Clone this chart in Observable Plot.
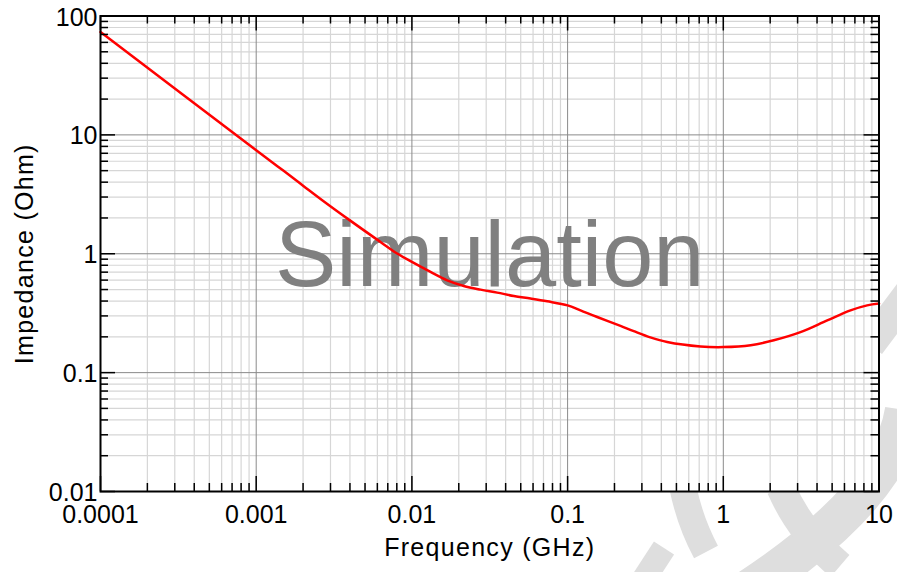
<!DOCTYPE html>
<html>
<head>
<meta charset="utf-8">
<script src="https://cdn.jsdelivr.net/npm/d3@7"></script>
<script src="https://cdn.jsdelivr.net/npm/@observablehq/plot@0.6"></script>
<style>
  html, body { margin: 0; padding: 0; background: white; overflow: hidden; }
  #wrap { position: relative; width: 897px; height: 572px; overflow: hidden; }
  #logo, #chart { position: absolute; left: 0; top: 0; }
</style>
</head>
<body>
<div id="wrap">
  <svg id="logo" width="897" height="572"></svg>
  <div id="chart"></div>
</div>
<script>
// ---- data ----
const freqGHz = [0.0001, 0.001, 0.0015, 0.002, 0.00259, 0.00404, 0.00628, 0.00804, 0.01, 0.01317, 0.01685, 0.02154, 0.02759,
                 0.0353, 0.04515, 0.05778, 0.07396, 0.1, 0.121, 0.1549, 0.2186, 0.266, 0.34, 0.436, 0.714,
                 1.0, 1.5, 2.11, 3.13, 4.65, 6.56, 8.39, 10];
const impedanceOhm = [73.3, 7.44, 4.98, 3.74, 2.89, 1.89, 1.257, 1.004, 0.853, 0.703, 0.598, 0.536, 0.499,
                      0.471, 0.441, 0.420, 0.398, 0.368, 0.334, 0.2935, 0.2475, 0.2234, 0.198, 0.181, 0.166,
                      0.164, 0.170, 0.187, 0.219, 0.275, 0.334, 0.368, 0.381];

const xMajor = [0.0001, 0.001, 0.01, 0.1, 1, 10];
const xMajorLabels = ["0.0001", "0.001", "0.01", "0.1", "1", "10"];
const yMajor = [0.01, 0.1, 1, 10, 100];
const yMajorLabels = ["0.01", "0.1", "1", "10", "100"];
const minorMultipliers = [2, 3, 4, 5, 6, 7, 8, 9];

const xTitle = "Frequency (GHz)";
const yTitle = "Impedance (Ohm)";
const watermark = "Simulation";

// ---- derived ----
const data = freqGHz.map((f, i) => ({f, z: impedanceOhm[i]}));
const xMinor = xMajor.slice(0, -1).flatMap(d => minorMultipliers.map(m => d * m));
const yMinor = yMajor.slice(0, -1).flatMap(d => minorMultipliers.map(m => d * m));
const xLab = new Map(xMajor.map((d, i) => [d, xMajorLabels[i]]));
const yLab = new Map(yMajor.map((d, i) => [d, yMajorLabels[i]]));

const W = 897, H = 572, mL = 100, mR = 18.5, mT = 15.5, mB = 81;
const fh = H - mT - mB;
const fw = W - mL - mR;
const font = "'Liberation Sans', Arial, Helvetica, sans-serif";
const minorLen = 8, majorLen = 15;

const tickStyle = {stroke: "black", strokeWidth: 1.5};

const chart = Plot.plot({
  width: W, height: H,
  marginLeft: mL, marginRight: mR, marginTop: mT, marginBottom: mB,
  style: {background: "transparent", fontFamily: font, overflow: "visible"},
  x: {type: "log", domain: [0.0001, 10], axis: null},
  y: {type: "log", domain: [0.01, 100], axis: null},
  marks: [
    Plot.frame({fill: "white", stroke: null}),
    Plot.gridX(xMinor, {stroke: "#d6d6d6", strokeOpacity: 1, strokeWidth: 1.2}),
    Plot.gridY(yMinor, {stroke: "#d6d6d6", strokeOpacity: 1, strokeWidth: 1.2}),
    Plot.gridX(xMajor.slice(1, -1), {stroke: "#8a8a8a", strokeOpacity: 1, strokeWidth: 1}),
    Plot.gridY(yMajor.slice(1, -1), {stroke: "#8a8a8a", strokeOpacity: 1, strokeWidth: 1}),
    Plot.text([watermark], {frameAnchor: "middle", fontSize: 92, fill: "#808080", dy: 3}),
    Plot.line(data, {x: "f", y: "z", stroke: "#ff0000", strokeWidth: 2.5, curve: "catmull-rom"}),
    Plot.frame({stroke: "black", strokeWidth: 2}),
    // inward ticks
    Plot.tickX(xMinor, {x: d => d, ...tickStyle, insetTop: fh - minorLen}),
    Plot.tickX(xMajor, {x: d => d, ...tickStyle, insetTop: fh - majorLen}),
    Plot.tickX(xMinor, {x: d => d, ...tickStyle, insetBottom: fh - minorLen}),
    Plot.tickX(xMajor, {x: d => d, ...tickStyle, insetBottom: fh - majorLen}),
    Plot.tickY(yMinor, {y: d => d, ...tickStyle, insetRight: fw - minorLen}),
    Plot.tickY(yMajor, {y: d => d, ...tickStyle, insetRight: fw - majorLen}),
    Plot.tickY(yMinor, {y: d => d, ...tickStyle, insetLeft: fw - minorLen}),
    Plot.tickY(yMajor, {y: d => d, ...tickStyle, insetLeft: fw - majorLen}),
    // tick labels
    Plot.axisX(xMajor, {anchor: "bottom", tickSize: 0, tickPadding: 14, tickFormat: d => xLab.get(d),
                        fontSize: 25, fill: "black", label: null}),
    Plot.axisY(yMajor, {anchor: "left", tickSize: 0, tickPadding: 3, tickFormat: d => yLab.get(d),
                        fontSize: 25, fill: "black", dy: 1.5, label: null}),
    // axis titles
    Plot.text([xTitle], {frameAnchor: "bottom", textAnchor: "middle", dy: 64, fontSize: 25, fill: "black"}),
    Plot.text([yTitle], {frameAnchor: "left", textAnchor: "middle", rotate: -90, dx: -76, dy: 0,
                         fontSize: 25, fill: "black"})
  ]
});
document.getElementById("chart").appendChild(chart);
d3.select(chart).selectAll("text")
  .filter(function() { return this.textContent === xTitle || this.textContent === yTitle; })
  .attr("letter-spacing", "1.3");

// faint decorative logo behind the plot area (bottom-right corner)
const logo = d3.select("#logo");
const logoColor = "#dedede";
const logoStrokes = [
  {d: "M 915 285 L 870 345", w: 30},
  {d: "M 905 410 Q 892 495 748 590", w: 40},
  {d: "M 781 488 Q 800 532 840 566", w: 29},
  {d: "M 683 488 Q 690 522 706 552", w: 27},
  {d: "M 664 548 L 640 585", w: 24}
];
logo.selectAll("path").data(logoStrokes).join("path")
  .attr("d", d => d.d).attr("fill", "none").attr("stroke", logoColor)
  .attr("stroke-width", d => d.w).attr("stroke-linecap", "butt");
</script>
</body>
</html>
